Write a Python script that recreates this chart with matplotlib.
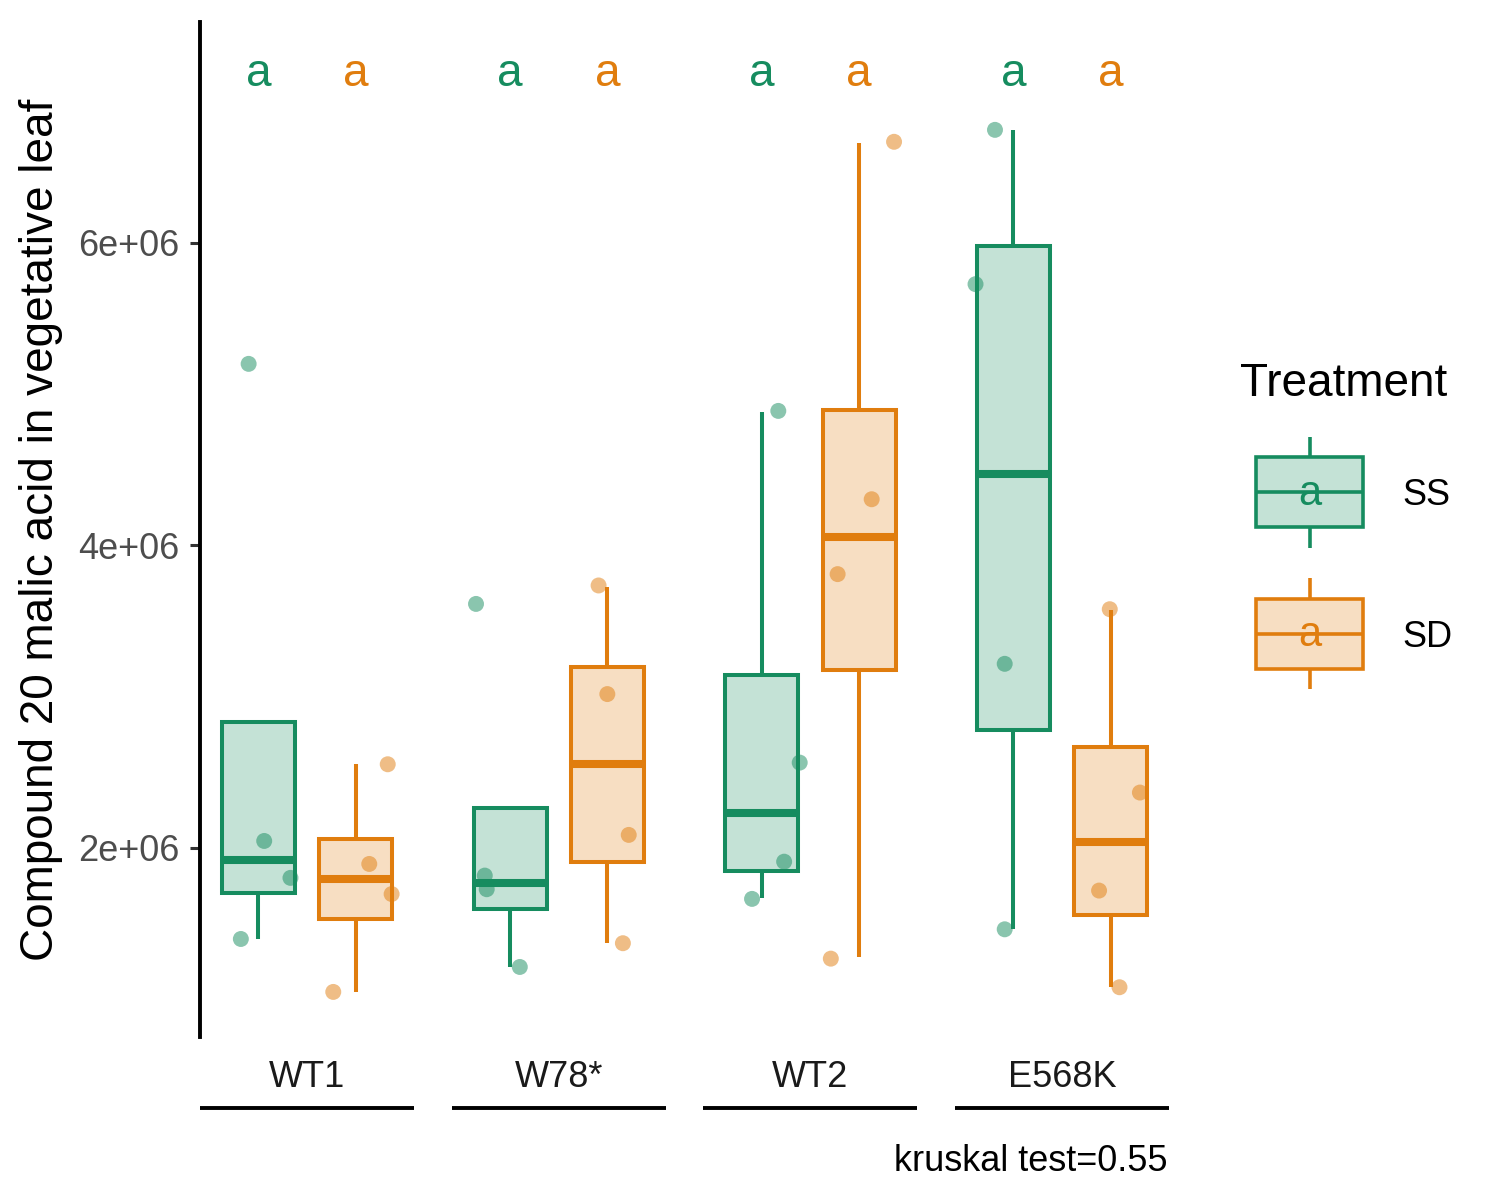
import matplotlib
matplotlib.use("Agg")
import matplotlib.pyplot as plt
from matplotlib.legend_handler import HandlerBase
from matplotlib.patches import Rectangle
from matplotlib.lines import Line2D
from matplotlib.text import Text
import matplotlib.colors as mcolors

plt.rcParams['font.family'] = ['Liberation Sans', 'DejaVu Sans']

# ---------------- data ----------------
genotypes = ['WT1', 'W78*', 'WT2', 'E568K']
treatments = ['SS', 'SD']
treat_colors = ['#168C5F', '#E07D0E']

# box statistics per genotype: [whislo, q1, med, q3, whishi]
box_SS = [
    [1.398e6, 1.702e6, 1.921e6, 2.833e6, 2.833e6],
    [1.215e6, 1.597e6, 1.771e6, 2.262e6, 2.262e6],
    [1.667e6, 1.848e6, 2.233e6, 3.144e6, 4.885e6],
    [1.464e6, 2.780e6, 4.473e6, 5.982e6, 6.743e6],
]
box_SD = [
    [1.048e6, 1.533e6, 1.793e6, 2.060e6, 2.553e6],
    [1.374e6, 1.909e6, 2.553e6, 3.199e6, 3.728e6],
    [1.277e6, 3.177e6, 4.058e6, 4.896e6, 6.663e6],
    [1.083e6, 1.557e6, 2.040e6, 2.666e6, 3.574e6],
]

# individual observations per genotype
points_SS = [
    [5.200e6, 2.046e6, 1.802e6, 1.398e6],
    [3.613e6, 1.817e6, 1.727e6, 1.213e6],
    [4.889e6, 2.564e6, 1.909e6, 1.663e6],
    [6.747e6, 5.727e6, 3.217e6, 1.462e6],
]
points_SD = [
    [2.553e6, 1.894e6, 1.695e6, 1.048e6],
    [3.735e6, 3.017e6, 2.086e6, 1.370e6],
    [6.668e6, 4.305e6, 3.810e6, 1.268e6],
    [3.578e6, 2.366e6, 1.718e6, 1.079e6],
]
# horizontal jitter of each observation (x units)
jitter_SS = [
    [-0.10, 0.06, 0.33, -0.18],
    [-0.35, -0.26, -0.24, 0.10],
    [0.17, 0.39, 0.23, -0.10],
    [-0.19, -0.39, -0.09, -0.09],
]
jitter_SD = [
    [0.33, 0.14, 0.37, -0.23],
    [-0.09, 0.00, 0.22, 0.16],
    [0.36, 0.13, -0.22, -0.29],
    [-0.01, 0.30, -0.12, 0.09],
]

letters_SS = ['a', 'a', 'a', 'a']
letters_SD = ['a', 'a', 'a', 'a']
letter_y = 7.04e6

y_ticks = [2e6, 4e6, 6e6]
y_tick_labels = ['2e+06', '4e+06', '6e+06']
y_limits = (0.75e6, 7.46e6)

y_title = 'Compound 20 malic acid in vegetative leaf'
legend_title = 'Treatment'
caption = 'kruskal test=0.55'

# ---------------- styling ----------------
W, H = 1500, 1200
LW = 2.9          # box / whisker line width (pt)
MED_LW = 5.8      # median line width
FILL_ALPHA = 0.25
PT_ALPHA = 0.5
BOX_WIDTH = 0.75


def fill_color(c):
    return mcolors.to_rgba(c, FILL_ALPHA)


fig = plt.figure(figsize=(W / 100, H / 100), dpi=100)

panel_w = 214 / W
gap = 37.7 / W
left0 = 200 / W
bottom = 1 - 1037 / H
height = (1037 - 22) / H

boxes_all = [box_SS, box_SD]
points_all = [points_SS, points_SD]
jitter_all = [jitter_SS, jitter_SD]
letters_all = [letters_SS, letters_SD]

for gi, g in enumerate(genotypes):
    ax = fig.add_axes([left0 + gi * (panel_w + gap), bottom, panel_w, height])
    ax.set_xlim(0.4, 2.6)
    ax.set_ylim(*y_limits)
    for ti in range(len(treatments)):
        pos = ti + 1
        col = treat_colors[ti]
        wl, q1, md, q3, wh = boxes_all[ti][gi]
        stats = [dict(whislo=wl, q1=q1, med=md, q3=q3, whishi=wh, fliers=[])]
        bp = ax.bxp(stats, positions=[pos], widths=BOX_WIDTH, patch_artist=True,
                    showcaps=False, showfliers=False, manage_ticks=False,
                    boxprops=dict(facecolor=fill_color(col), edgecolor=col,
                                  linewidth=LW, joinstyle='miter'),
                    whiskerprops=dict(color=col, linewidth=LW, solid_capstyle='butt'),
                    medianprops=dict(color=col, linewidth=MED_LW, solid_capstyle='butt'))
        for b in bp['boxes']:
            b.set_zorder(2)
        vals = points_all[ti][gi]
        xs = [pos + j for j in jitter_all[ti][gi]]
        ax.scatter(xs, vals, s=132, color=col, alpha=PT_ALPHA,
                   edgecolors='none', zorder=4)
        ax.text(pos, letter_y, letters_all[ti][gi], ha='center', va='baseline',
                fontsize=33, color=col, zorder=5)

    for sp in ['top', 'right', 'bottom']:
        ax.spines[sp].set_visible(False)
    ax.set_xticks([])
    if gi == 0:
        ax.spines['left'].set_linewidth(2.8)
        ax.spines['left'].set_color('black')
        ax.set_yticks(y_ticks)
        ax.set_yticklabels(y_tick_labels)
        ax.tick_params(axis='y', length=7.5, width=2.2, color='#333333',
                       labelsize=26, labelcolor='#4D4D4D', pad=7)
    else:
        ax.spines['left'].set_visible(False)
        ax.set_yticks([])

    # strip label and line below each panel
    ax.text(0.5, (1037 - 1087) / 1015, g, transform=ax.transAxes,
            ha='center', va='baseline', fontsize=26, color='#1A1A1A')
    ax.plot([0, 1], [(1037 - 1108) / 1015] * 2, transform=ax.transAxes,
            clip_on=False, color='black', linewidth=2.8, solid_capstyle='butt')

fig.text(41 / W, 1 - 530 / H, y_title, rotation=90, ha='center', va='center',
         fontsize=33, color='black')
fig.text(1168 / W, 1 - 1171 / H, caption, ha='right', va='baseline',
         fontsize=26, color='black')


# ---------------- legend ----------------
class BoxKeyHandler(HandlerBase):
    def __init__(self, color, letter):
        super().__init__()
        self.color = color
        self.letter = letter

    def create_artists(self, legend, orig_handle, xdescent, ydescent,
                       width, height, fontsize, trans):
        x0 = -xdescent
        # centre the key on the middle of the label's capitals
        yc = 0.358 * fontsize
        y0 = yc - height / 2
        bx0 = x0 + 0.115 * width
        bw = 0.77 * width
        by0 = y0 + 0.185 * height
        bh = 0.63 * height
        cx = x0 + width / 2
        lw = 2.6
        rect = Rectangle((bx0, by0), bw, bh, facecolor=fill_color(self.color),
                         edgecolor=self.color, linewidth=lw, joinstyle='miter',
                         transform=trans)
        w1 = Line2D([cx, cx], [y0, by0], color=self.color, linewidth=lw,
                    solid_capstyle='butt', transform=trans)
        w2 = Line2D([cx, cx], [by0 + bh, y0 + height], color=self.color,
                    linewidth=lw, solid_capstyle='butt', transform=trans)
        med = Line2D([bx0, bx0 + bw], [y0 + height / 2] * 2, color=self.color,
                     linewidth=lw, solid_capstyle='butt', transform=trans)
        txt = Text(cx, y0 + height / 2 - 0.04 * fontsize, self.letter,
                   color=self.color, ha='center', va='center', fontsize=30,
                   transform=trans)
        return [rect, w1, w2, med, txt]


fig.text(1240 / W, 1 - 396 / H, legend_title, ha='left', va='baseline',
         fontsize=33, color='black')

handles = [Rectangle((0, 0), 1, 1) for _ in treatments]
hmap = {h: BoxKeyHandler(c, 'a') for h, c in zip(handles, treat_colors)}
fig.legend(handles, treatments, handler_map=hmap, loc='upper left',
           bbox_to_anchor=(1240 / W, 1 - 440.5 / H), bbox_transform=fig.transFigure,
           frameon=False, fontsize=26,
           handlelength=3.85, handleheight=4.35,
           labelspacing=0.845, handletextpad=0.66, borderpad=0, borderaxespad=0)

fig.savefig('out.png', dpi=100)
